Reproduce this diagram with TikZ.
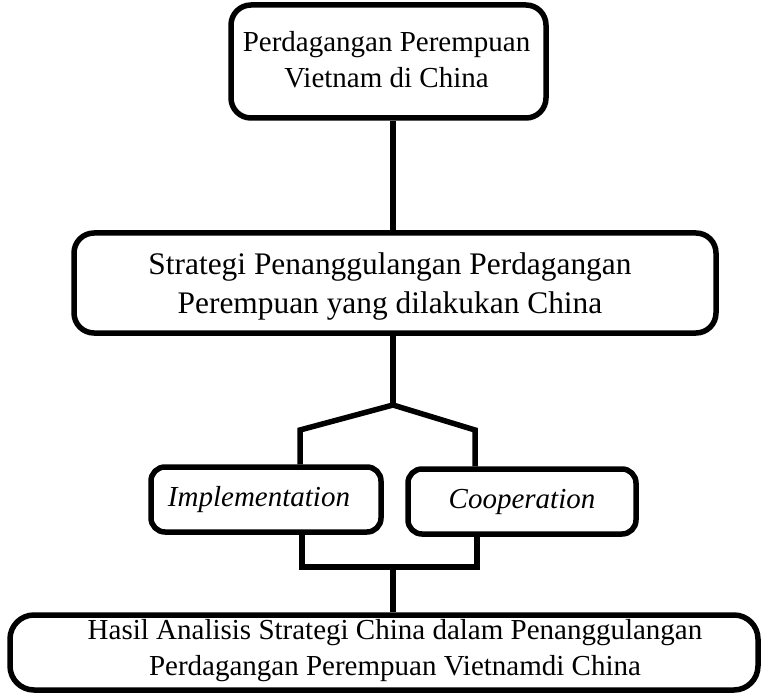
\documentclass[tikz,border=0pt]{standalone}
\usepackage{fontspec}
\setmainfont{Liberation Serif}
\begin{document}
\begin{tikzpicture}[x=1pt,y=-1pt,
  box/.style={draw=black, line width=5.5pt, rounded corners=20pt, fill=white,
    inner sep=0pt},
  lbl/.style={align=center, inner sep=0pt, font=\fontsize{29}{36}\selectfont},
  link/.style={draw=black, line width=5.5pt}]
\useasboundingbox[fill=white] (0,0) rectangle (763,695);
\node[box, minimum width=315pt, minimum height=113pt] (top) at (388.5,61.5) {};
\node[lbl] (toptext) at ([xshift=-2pt,yshift=2pt]top.center)
  {Perdagangan Perempuan\\Vietnam di China};
\node[box, minimum width=642pt, minimum height=100pt] (mid) at (395,283) {};
\node[lbl, font=\fontsize{31.4}{39}\selectfont] (midtext) at ([xshift=-5pt,yshift=-3pt]mid.center)
  {Strategi Penanggulangan Perdagangan\\Perempuan yang dilakukan China};
\node[box, minimum width=230pt, minimum height=65pt, rounded corners=14pt] (impl) at (266,499.5) {};
\node[lbl, font=\fontsize{29}{36}\itshape] (impltext) at ([xshift=-7pt]impl.center) {Implementation};
\node[box, minimum width=228pt, minimum height=65pt, rounded corners=14pt] (coop) at (522,501.5) {};
\node[lbl, font=\fontsize{29}{36}\itshape] (cooptext) at (coop.center) {Cooperation};
\node[box, minimum width=748pt, minimum height=75pt, rounded corners=24pt] (res) at (384,652.5) {};
\node[lbl] (restext) at ([xshift=11pt,yshift=1.5pt]res.center)
  {Hasil Analisis Strategi China dalam Penanggulangan\\Perdagangan Perempuan Vietnamdi China};
\coordinate (spine) at (393,0);
\coordinate (peak) at (393,405);
\coordinate (lroof) at (300,430);
\coordinate (rroof) at (475,430);
\coordinate (ljoin) at (302,567);
\coordinate (rjoin) at (477,567);
\coordinate (mjoin) at (393,567);
\draw[link] (top.south -| spine) -- (mid.north -| spine);
\draw[link] (mid.south -| spine) -- (peak);
\draw[link] (impl.north -| lroof) -- (lroof) -- (peak) -- (rroof) -- (coop.north -| rroof);
\draw[link] (impl.south -| ljoin) -- (ljoin) -- (rjoin) -- (coop.south -| rjoin);
\draw[link] (mjoin) -- (res.north -| mjoin);
\end{tikzpicture}
\end{document}
